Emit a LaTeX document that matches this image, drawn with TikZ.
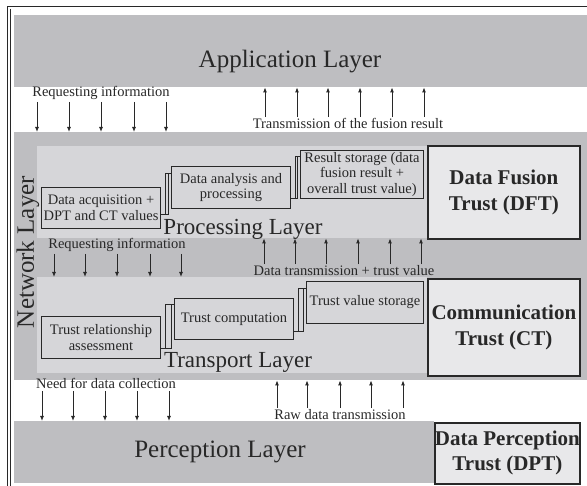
\documentclass[tikz,border=0pt]{standalone}
\usepackage{fontspec}
\setmainfont{Liberation Serif}
\usetikzlibrary{arrows.meta, positioning, calc}

\definecolor{bandgray}{RGB}{190,190,193}
\definecolor{panelgray}{RGB}{214,214,217}
\definecolor{trustgray}{RGB}{232,232,234}
\definecolor{inkgray}{RGB}{40,40,40}

% stair-like double joint from box #1 up to box #2
% (#3 = rise above #1's bottom, #4 = drop below #2's top)
\newcommand{\stepjoin}[4]{%
  \draw[stairline] ($(#1.south east)+(0pt,#3)$) -- ++(4pt,0pt) |- ($(#2.north west)+(0pt,-#4)$);
  \draw[stairline] ($(#1.south east)+(4pt,#3)$) -| ($(#2.north west)+(-3pt,-#4)$);
}

\begin{document}
\begin{tikzpicture}[x=1pt, y=-1pt,
  band/.style={fill=bandgray, draw=none, inner sep=0pt, anchor=north west},
  panel/.style={fill=panelgray, draw=none, inner sep=0pt, anchor=north west},
  task/.style={draw=inkgray, line width=1pt, text=inkgray, align=center, anchor=north west,
    inner sep=0pt, font=\fontsize{14.5}{15.5}\selectfont},
  trust/.style={draw=inkgray, line width=1.8pt, fill=trustgray, text=inkgray, align=center,
    anchor=north west, inner sep=0pt, font=\fontsize{21}{26}\selectfont\bfseries},
  layername/.style={text=inkgray, anchor=base, inner sep=0pt, font=\fontsize{23}{28}\selectfont},
  note/.style={text=inkgray, anchor=base, inner sep=1.5pt, font=\fontsize{14.5}{16}\selectfont},
  arrow/.style={-{Latex[length=5pt,width=4pt]}, line width=0.9pt, draw=inkgray},
  stairline/.style={draw=inkgray, line width=0.9pt}
]
\useasboundingbox (0,0) rectangle (587,486);

% frame
\draw[inkgray, line width=0.8pt] (587,6) -- (7,6) -- (7,486);
\draw[inkgray, line width=0.6pt] (10,9) -- (10,486);

% layers
\node[band, minimum width=573pt, minimum height=72pt] (app) at (14,15) {};
\node[band, minimum width=573pt, minimum height=248pt] (net) at (14,132) {};
\node[panel, minimum width=390pt, minimum height=92pt] (proc) at (37,146) {};
\node[panel, minimum width=390pt, minimum height=96pt] (trans) at (37,277) {};
\node[band, minimum width=420pt, minimum height=62pt] (perc) at (14,421) {};

\node[layername, font=\fontsize{25}{30}\selectfont] (appname) at (290,68) {Application Layer};
\node[layername, font=\fontsize{25}{30}\selectfont, rotate=90] (netname) at (34,252) {Network Layer};
\node[layername] (procname) at (243,235) {Processing Layer};
\node[layername] (transname) at (238,368) {Transport Layer};
\node[layername, font=\fontsize{25}{30}\selectfont] (percname) at (220,458) {Perception Layer};

% processing steps
\node[task, minimum width=119pt, minimum height=41pt] (acq) at (41,187) {Data acquisition +\\DPT and CT values};
\node[task, minimum width=119pt, minimum height=42pt] (ana) at (171,166) {Data analysis and\\processing};
\node[task, minimum width=123pt, minimum height=48pt] (res) at (300,150) {Result storage (data\\fusion result +\\overall trust value)};

% transport steps
\node[task, minimum width=119pt, minimum height=42pt] (rel) at (41,316) {Trust relationship\\assessment};
\node[task, minimum width=119pt, minimum height=41pt] (cmp) at (174,298) {Trust computation};
\node[task, minimum width=117pt, minimum height=42pt] (sto) at (306,281) {Trust value storage};

\stepjoin{acq}{ana}{15pt}{7pt}
\stepjoin{ana}{res}{11pt}{6pt}
\stepjoin{rel}{cmp}{11pt}{6pt}
\stepjoin{cmp}{sto}{9pt}{7pt}

% trust boxes
\node[trust, minimum width=152pt, minimum height=93pt] (dft) at (427,145) {Data Fusion\\Trust (DFT)};
\node[trust, minimum width=152pt, minimum height=97pt] (ct) at (427,278) {Communication\\Trust (CT)};
\node[trust, minimum width=145pt, minimum height=61pt, font=\fontsize{21}{25}\selectfont\bfseries] (dpt) at (434,422) {Data Perception\\Trust (DPT)};

% flows between layers
\node[note] (askapp) at (101,97) {Requesting information};
\node[note] (fusedup) at (348,129) {Transmission of the fusion result};
\node[note] (asktrans) at (117,249) {Requesting information};
\node[note] (trustup) at (344,276) {Data transmission + trust value};
\node[note] (askperc) at (106,389) {Need for data collection};
\node[note] (rawup) at (340,420) {Raw data transmission};

\foreach \x in {37,69,101,134,166}
  \draw[arrow] (\x,0 |- askapp.south) -- (\x,0 |- net.north);
\foreach \x in {265,297,328,360,392,424}
  \draw[arrow] (\x,0 |- fusedup.north) -- (\x,0 |- app.south);
\foreach \x in {54,85,117,150,181}
  \draw[arrow] (\x,0 |- asktrans.south) -- (\x,0 |- trans.north);
\foreach \x in {264,295,326,358,390,421}
  \draw[arrow] (\x,0 |- trustup.north) -- (\x,0 |- proc.south);
\foreach \x in {42,73,105,137,169}
  \draw[arrow] (\x,0 |- askperc.south) -- (\x,0 |- perc.north);
\foreach \x in {277,307,340,371,403}
  \draw[arrow] (\x,0 |- rawup.north) -- (\x,0 |- net.south);

\end{tikzpicture}
\end{document}
